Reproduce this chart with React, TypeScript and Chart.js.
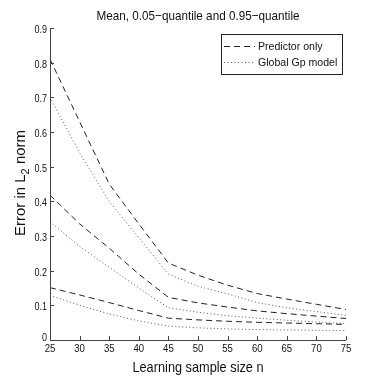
import React, { useEffect, useRef } from "react";
import { Chart, registerables } from "chart.js";

Chart.register(...registerables);

// ---- data ----
const sampleSizes = [25, 30, 35, 40, 45, 50, 55, 60, 65, 70, 75];
const predictorQ95 = [0.81, 0.63, 0.45, 0.335, 0.222, 0.187, 0.158, 0.134, 0.118, 0.103, 0.088];
const predictorMean = [0.418, 0.335, 0.265, 0.19, 0.123, 0.107, 0.095, 0.084, 0.076, 0.069, 0.062];
const predictorQ05 = [0.151, 0.13, 0.108, 0.085, 0.063, 0.058, 0.054, 0.051, 0.049, 0.047, 0.045];
const globalQ95 = [0.7, 0.54, 0.4, 0.295, 0.19, 0.155, 0.133, 0.108, 0.093, 0.082, 0.071];
const globalMean = [0.341, 0.27, 0.21, 0.15, 0.093, 0.08, 0.07, 0.063, 0.057, 0.052, 0.047];
const globalQ05 = [0.129, 0.1, 0.075, 0.055, 0.04, 0.035, 0.032, 0.03, 0.029, 0.028, 0.027];

const legendLabels = ["Predictor only", "Global Gp model"];
const titleText = "Mean, 0.05\u2212quantile and 0.95\u2212quantile";
const xAxisTitle = "Learning sample size n";
const yAxisTitleMain = "Error in L";
const yAxisTitleSub = "2";
const yAxisTitleEnd = " norm";

const FONT = "'Liberation Sans', Arial, Helvetica, sans-serif";
const DASH = [6, 4];
const DOT = [1, 2.5];
const DASH_COLOR = "#222";
const DOT_COLOR = "#555";

function squeezedText(
  ctx: CanvasRenderingContext2D,
  text: string,
  x: number,
  y: number,
  sx: number,
  align: CanvasTextAlign
) {
  ctx.save();
  ctx.translate(x, y);
  ctx.scale(sx, 1);
  ctx.textAlign = align;
  ctx.fillText(text, 0, 0);
  ctx.restore();
}

export default function App() {
  const ref = useRef<HTMLCanvasElement>(null);

  useEffect(() => {
    document.body.style.margin = "0";
    const canvas = ref.current!;

    const toPts = (ys: number[]) => sampleSizes.map((x, i) => ({ x, y: ys[i] }));

    const overlay = {
      id: "overlay",
      afterDraw(chart: any) {
        const ctx = chart.ctx as CanvasRenderingContext2D;
        const xs = chart.scales.x;
        const ys = chart.scales.y;
        const { left, right, top, bottom } = chart.chartArea;
        ctx.save();

        // axis lines
        ctx.strokeStyle = "#444";
        ctx.lineWidth = 1;
        ctx.setLineDash([]);
        ctx.beginPath();
        ctx.moveTo(left + 0.5, top);
        ctx.lineTo(left + 0.5, bottom + 0.5);
        ctx.lineTo(right, bottom + 0.5);
        ctx.stroke();

        // inward ticks
        ctx.beginPath();
        xs.ticks.forEach((t: any) => {
          const px = Math.round(xs.getPixelForValue(t.value)) + 0.5;
          ctx.moveTo(px, bottom);
          ctx.lineTo(px, bottom - 4);
        });
        ys.ticks.forEach((t: any) => {
          const py = Math.round(ys.getPixelForValue(t.value)) + 0.5;
          ctx.moveTo(left, py);
          ctx.lineTo(left + 4, py);
        });
        ctx.stroke();

        // tick labels
        ctx.fillStyle = "#111";
        ctx.font = `11px ${FONT}`;
        ctx.textBaseline = "middle";
        xs.ticks.forEach((t: any) => {
          const px = xs.getPixelForValue(t.value);
          squeezedText(ctx, String(t.label), px, 349, 0.87, "center");
        });
        ys.ticks.forEach((t: any) => {
          const py = ys.getPixelForValue(t.value);
          const off = t.value === 0 ? -2 : 2;
          squeezedText(ctx, String(t.label), left - 3, py + off, 0.82, "right");
        });

        // title
        ctx.fillStyle = "#111";
        ctx.font = `13px ${FONT}`;
        ctx.textBaseline = "alphabetic";
        squeezedText(ctx, titleText, (left + right) / 2, 19.5, 0.9, "center");

        // x axis title
        ctx.font = `15px ${FONT}`;
        squeezedText(ctx, xAxisTitle, (left + right) / 2, 372, 0.85, "center");

        // y axis title with subscript
        ctx.save();
        ctx.translate(25, 183);
        ctx.rotate(-Math.PI / 2);
        ctx.font = `15px ${FONT}`;
        const w1 = ctx.measureText(yAxisTitleMain).width;
        ctx.font = `11px ${FONT}`;
        const w2 = ctx.measureText(yAxisTitleSub).width;
        ctx.font = `15px ${FONT}`;
        const w3 = ctx.measureText(yAxisTitleEnd).width;
        const total = w1 + w2 + w3;
        let cx = -total / 2;
        ctx.textAlign = "left";
        ctx.fillText(yAxisTitleMain, cx, 0);
        cx += w1;
        ctx.font = `11px ${FONT}`;
        ctx.fillText(yAxisTitleSub, cx, 4);
        cx += w2;
        ctx.font = `15px ${FONT}`;
        ctx.fillText(yAxisTitleEnd, cx, 0);
        ctx.restore();

        // legend
        const bx = 221.5, by = 34.5, bw = 121, bh = 40;
        ctx.fillStyle = "#fff";
        ctx.fillRect(bx, by, bw, bh);
        ctx.strokeStyle = "#222";
        ctx.lineWidth = 1;
        ctx.setLineDash([]);
        ctx.strokeRect(bx, by, bw, bh);
        const rows = [
          { label: legendLabels[0], dash: DASH, color: DASH_COLOR, y: 46 },
          { label: legendLabels[1], dash: DOT, color: DOT_COLOR, y: 62 },
        ];
        rows.forEach((r) => {
          ctx.strokeStyle = r.color;
          ctx.setLineDash(r.dash);
          ctx.beginPath();
          ctx.moveTo(224, r.y + 0.5);
          ctx.lineTo(255, r.y + 0.5);
          ctx.stroke();
          ctx.setLineDash([]);
          ctx.fillStyle = "#111";
          ctx.font = `11px ${FONT}`;
          ctx.textBaseline = "middle";
          squeezedText(ctx, r.label, 258, r.y + 0.5, 0.96, "left");
        });

        ctx.restore();
      },
    };

    const mk = (label: string, data: number[], dashed: boolean) => ({
      label,
      data: toPts(data),
      borderColor: dashed ? DASH_COLOR : DOT_COLOR,
      borderWidth: 1,
      borderDash: dashed ? DASH : DOT,
      pointRadius: 0,
      fill: false,
      tension: 0,
    });

    const chart = new Chart(canvas, {
      type: "line",
      data: {
        datasets: [
          mk(legendLabels[0], predictorQ95, true),
          mk(legendLabels[0], predictorMean, true),
          mk(legendLabels[0], predictorQ05, true),
          mk(legendLabels[1], globalQ95, false),
          mk(legendLabels[1], globalMean, false),
          mk(legendLabels[1], globalQ05, false),
        ],
      },
      options: {
        responsive: false,
        animation: false,
        layout: { padding: { top: 28, right: 36, left: 0, bottom: 0 } },
        plugins: {
          legend: { display: false },
          title: { display: false },
          tooltip: { enabled: false },
        },
        scales: {
          x: {
            type: "linear",
            min: 25,
            max: 75,
            grid: { display: false, drawTicks: false },
            border: { display: false },
            ticks: {
              stepSize: 5,
              autoSkip: false,
              maxRotation: 0,
              color: "rgba(0,0,0,0)",
              font: { family: FONT, size: 11 },
            },
            afterFit: (s: any) => {
              s.height = 42;
            },
          },
          y: {
            type: "linear",
            min: 0,
            max: 0.9,
            grid: { display: false, drawTicks: false },
            border: { display: false },
            ticks: {
              stepSize: 0.1,
              color: "rgba(0,0,0,0)",
              font: { family: FONT, size: 11 },
              callback: (v: any) => {
                const n = Math.round(Number(v) * 10) / 10;
                return n === 0 ? "0" : String(n);
              },
            },
            afterFit: (s: any) => {
              s.width = 50;
            },
          },
        },
      },
      plugins: [overlay],
    });

    return () => chart.destroy();
  }, []);

  return (
    <div style={{ width: 382, height: 382 }}>
      <canvas ref={ref} width={382} height={382} style={{ display: "block" }} />
    </div>
  );
}
